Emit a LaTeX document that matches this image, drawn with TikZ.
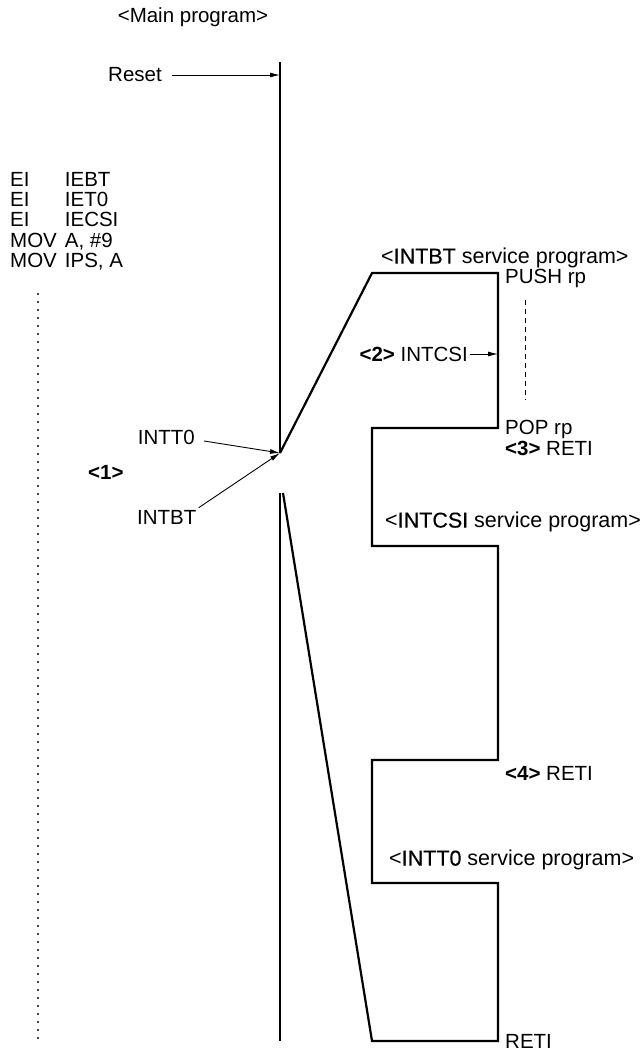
\documentclass[tikz,border=0pt]{standalone}
\usepackage{fontspec}
\setmainfont{Liberation Sans}
\newfontfamily\medfont[FakeBold=0.3]{Liberation Sans}
\usetikzlibrary{positioning, arrows.meta, calc}

\tikzset{
  lbl/.style={font=\fontsize{20.5}{20}\selectfont, inner sep=0pt},
  svc/.style={lbl, font=\fontsize{21.5}{20}\selectfont, anchor=west},
  flow/.style={line width=2.2pt, line join=miter},
  ptr/.style={line width=0.9pt, -{Latex[length=10pt,width=5pt]}},
}

\begin{document}
\begin{tikzpicture}[x=1pt,y=-1pt]
  \useasboundingbox (0,0) rectangle (643,1051);

  % main program line
  \coordinate (mtop) at (280,62);
  \coordinate (join) at (280,453);
  \coordinate (mlow) at (280,493);
  \coordinate (mbot) at (280,1041);
  \draw[flow] (mtop) -- (join);
  \draw[flow] (mlow) -- (mbot);

  \node[lbl] (mainhd) at (193,17) {<Main program>};
  \node[lbl, anchor=east] (reset) at (162,75) {Reset};
  \draw[ptr, shorten <=10pt] (reset.east) -- (reset.east -| mtop);

  \node[lbl, anchor=north west, align=left] (setup) at (10,172)
    {\begin{tabular}{@{}l@{\hspace{8pt}}l@{}}
      EI & IEBT\\
      EI & IET0\\
      EI & IECSI\\
      MOV & A, \#9\\
      MOV & IPS, A
    \end{tabular}};
  \draw[line width=2.2pt, line cap=round, dash pattern=on 0pt off 8pt]
    (38,294) -- (38,1040);

  % interrupt requests
  \node[lbl, anchor=east] (intt0) at (195,437) {INTT0};
  \node[lbl, anchor=west] (intbt) at (137,517) {INTBT};
  \node[lbl, anchor=west] (one) at (88,472) {\textbf{<1>}};
  \draw[ptr] ([xshift=9pt,yshift=-4pt]intt0.east) -- (join);
  \draw[ptr] ([xshift=2pt,yshift=2pt]intbt.north east) -- (join);

  % service programs
  \coordinate (s1) at (372,273);
  \coordinate (s2) at (498,273);
  \coordinate (s3) at (498,428);
  \coordinate (s4) at (372,428);
  \coordinate (s5) at (372,546);
  \coordinate (s6) at (498,546);
  \coordinate (s7) at (498,760);
  \coordinate (s8) at (372,760);
  \coordinate (s9) at (372,883);
  \coordinate (s10) at (498,883);
  \coordinate (s11) at (498,1041);
  \coordinate (s12) at (372,1041);
  \coordinate (back) at (283,493);
  \draw[flow] (join) -- (s1) -- (s2) -- (s3) -- (s4) -- (s5) -- (s6)
    -- (s7) -- (s8) -- (s9) -- (s10) -- (s11) -- (s12) -- (back);

  \node[svc] (btsvc) at (381,258) {<{\medfont INTBT} service program>};
  \node[lbl, anchor=west] (push) at (505,278) {PUSH rp};
  \node[lbl, anchor=west] (pop) at (505,429) {POP rp};
  \node[lbl, anchor=west] (reti3) at (505,448) {\textbf{<3>} RETI};
  \draw[line width=0.7pt, dash pattern=on 5pt off 4pt] (525,300) -- (525,400);

  \node[lbl, anchor=east] (csi) at (468,354) {\textbf{<2>} INTCSI};
  \draw[ptr] ([xshift=2pt]csi.east) -- (csi.east -| s2);

  \node[svc] (csisvc) at (385,522) {<{\medfont INTCSI} service program>};
  \node[lbl, anchor=west] (reti4) at (505,773) {\textbf{<4>} RETI};
  \node[svc] (t0svc) at (389,860) {<{\medfont INTT0} service program>};
  \node[lbl, anchor=west] (reti) at (505,1041) {RETI};
\end{tikzpicture}
\end{document}
